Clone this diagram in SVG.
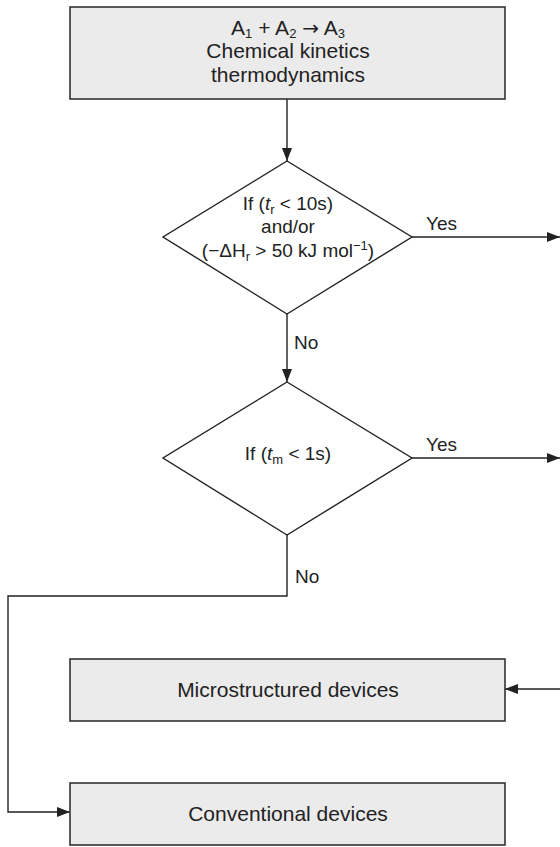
<svg xmlns="http://www.w3.org/2000/svg" width="560" height="847" viewBox="0 0 560 847">
<style>
.box{fill:#ebebeb;stroke:#333;stroke-width:1.6}
.dia{fill:#fff;stroke:#222;stroke-width:1.4}
.ln{fill:none;stroke:#222;stroke-width:1.4}
text{font-family:"Liberation Sans",Arial,sans-serif;fill:#222}
.bt{font-size:21px;text-anchor:middle}
.dt{font-size:19px;text-anchor:middle}
.lb{font-size:19px}
.sub{font-size:13px}
</style>
<defs>
<marker id="ah" markerWidth="13" markerHeight="10" refX="13" refY="5" orient="auto" markerUnits="userSpaceOnUse">
<path d="M0,0 L13,5 L0,10 Z" fill="#222"/>
</marker>
</defs>
<rect width="560" height="847" fill="#fff"/>
<g id="connectors">
<line class="ln" x1="287" y1="99" x2="287" y2="161" marker-end="url(#ah)"/>
<line class="ln" x1="412" y1="237" x2="560" y2="237" marker-end="url(#ah)"/>
<line class="ln" x1="287" y1="314" x2="287" y2="382" marker-end="url(#ah)"/>
<line class="ln" x1="412" y1="458" x2="560" y2="458" marker-end="url(#ah)"/>
<polyline class="ln" points="287,535 287,596 8,596 8,812 70,812" marker-end="url(#ah)"/>
<line class="ln" x1="560" y1="689" x2="505" y2="689" marker-end="url(#ah)"/>
<text class="lb" x="426" y="230">Yes</text>
<text class="lb" x="294" y="349">No</text>
<text class="lb" x="426" y="451">Yes</text>
<text class="lb" x="295" y="583">No</text>
</g>
<g id="start">
<rect class="box" x="70" y="7" width="435" height="92"/>
<text class="bt" x="288" y="35">A<tspan class="sub" font-size="14" dy="3">1</tspan><tspan dy="-3"> + A</tspan><tspan class="sub" font-size="14" dy="3">2</tspan><tspan dy="-3"> </tspan><tspan font-family="DejaVu Sans" font-size="20">→</tspan><tspan> A</tspan><tspan class="sub" font-size="14" dy="3">3</tspan></text>
<text class="bt" x="288" y="58">Chemical kinetics</text>
<text class="bt" x="288" y="82">thermodynamics</text>
</g>
<g id="decision1">
<polygon class="dia" points="287,161 412,237 287,314 163,237"/>
<text class="dt" x="288" y="210">If (<tspan font-style="italic">t</tspan><tspan class="sub" dy="4">r</tspan><tspan dy="-4"> &lt; 10s)</tspan></text>
<text class="dt" x="288" y="233">and/or</text>
<text class="dt" x="288" y="257">(−ΔH<tspan class="sub" dy="4">r</tspan><tspan dy="-4"> &gt; 50 kJ mol</tspan><tspan class="sub" dy="-7">−1</tspan><tspan dy="7">)</tspan></text>
</g>
<g id="decision2">
<polygon class="dia" points="287,382 412,458 287,535 163,458"/>
<text class="dt" x="288" y="460">If (<tspan font-style="italic">t</tspan><tspan class="sub" dy="4">m</tspan><tspan dy="-4"> &lt; 1s)</tspan></text>
</g>
<g id="micro">
<rect class="box" x="70" y="659" width="435" height="62"/>
<text class="bt" x="288" y="697">Microstructured devices</text>
</g>
<g id="conventional">
<rect class="box" x="70" y="783" width="435" height="62"/>
<text class="bt" x="288" y="821">Conventional devices</text>
</g>
</svg>
